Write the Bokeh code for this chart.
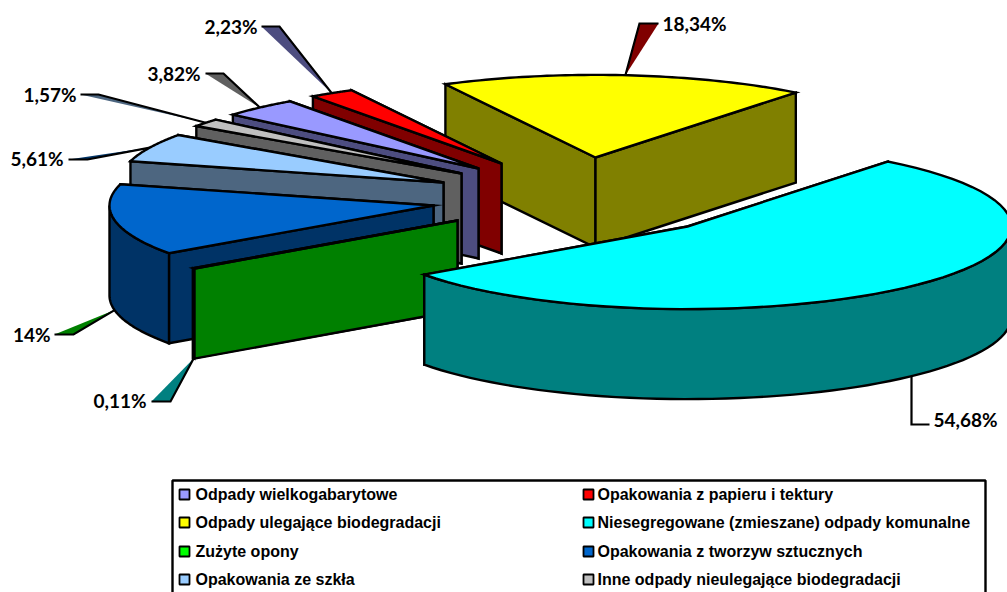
import numpy as np
from bokeh.core.properties import value
from bokeh.embed import file_html
from bokeh.models import ColumnDataSource, Range1d
from bokeh.plotting import figure
from bokeh.resources import INLINE

# ---- chart data (clockwise from the first slice) ----
categories = ["Odpady wielkogabarytowe", "Opakowania z papieru i tektury",
              "Odpady ulegające biodegradacji", "Niesegregowane (zmieszane) odpady komunalne",
              "Zużyte opony", "Opakowania z tworzyw sztucznych",
              "Opakowania ze szkła", "Inne odpady nieulegające biodegradacji"]
shares = [3.82, 2.23, 18.34, 54.68, 0.11, 14.0, 5.61, 1.57]
labels = ["3,82%", "2,23%", "18,34%", "54,68%", "0,11%", "14%", "5,61%", "1,57%"]

# ---- styling ----
top_colors = ["#9999FF", "#FF0000", "#FFFF00", "#00FFFF", "#008000", "#0066CC", "#99CCFF", "#C0C0C0"]
side_colors = ["#4D4D80", "#800000", "#808000", "#008080", "#008000", "#003366", "#4D6680", "#606060"]
legend_colors = ["#9999FF", "#FF0000", "#FFFF00", "#00FFFF", "#00FF00", "#0066CC", "#99CCFF", "#C0C0C0"]
leader_colors = ["#606060", "#4D4D80", "#800000", None, "#008080", "#008000", "#003366", "#4D6680"]

# ---- layout of the exploded 3D pie, in page pixels ----
apex_x = [478, 501, 595, 687, 457, 433, 443, 461]
apex_y = [168, 163, 157, 226, 220, 205, 182, 173]
RADIUS, TILT, DEPTH, START = 324.0, 0.255, 90.0, 139.3
paint_order = [2, 1, 0, 7, 6, 5, 4, 3]
label_x = [200, 257, 662, 933, 146, 50, 63, 76]
label_y = [73, 26, 23, 419, 400, 334, 158, 94]
label_align = ["right", "right", "left", "left", "right", "right", "right", "right"]
leader_start = [(205, 73), (261, 26), (658, 23), (929, 424), (151, 401), (54, 334), (68, 159), (80, 94)]
leader_elbow = [(223, 73), (279, 26), (639, 23), (911, 424), (170, 401), (73, 334), (87, 159), (98, 94)]

p = figure(width=1007, height=592, x_range=Range1d(0, 1007), y_range=Range1d(592, 0),
           output_backend="svg", toolbar_location=None, min_border=0)
p.axis.visible = False
p.grid.visible = False
p.outline_line_color = None
p.background_fill_color = "white"

total = sum(shares)
sweep = [s / total * 360.0 for s in shares]
starts = START - np.concatenate(([0.0], np.cumsum(sweep)[:-1]))


def rim(i, a0, a1, n=60):
    t = np.radians(np.linspace(a0, a1, n))
    return apex_x[i] + RADIUS * np.cos(t), apex_y[i] - RADIUS * TILT * np.sin(t)


xs, ys, fills = [], [], []
for i in paint_order:
    a0, a1 = starts[i], starts[i] - sweep[i]
    ax, ay = apex_x[i], apex_y[i]
    # the two radial cut faces, the one further from the viewer first
    for ang in sorted((a0, a1), key=lambda a: -np.sin(np.radians(a))):
        ex, ey = rim(i, ang, ang, 1)
        xs.append([ax, ex[0], ex[0], ax])
        ys.append([ay, ey[0], ey[0] + DEPTH, ay + DEPTH])
        fills.append(side_colors[i])
    # outer rim: only the part that faces the viewer (sine below zero)
    for k in (-1, 0):
        low = max(a1, 180 + 360 * k)
        high = min(a0, 360 + 360 * k)
        if low < high:
            tx, ty = rim(i, low, high)
            xs.append(list(tx) + list(tx[::-1]))
            ys.append(list(ty) + list(ty[::-1] + DEPTH))
            fills.append(side_colors[i])
    # top face
    tx, ty = rim(i, a0, a1)
    xs.append([ax] + list(tx))
    ys.append([ay] + list(ty))
    fills.append(top_colors[i])

p.patches("xs", "ys", source=ColumnDataSource(dict(xs=xs, ys=ys, fill=fills)),
          fill_color="fill", line_color="black", line_width=2.4, line_join="miter")

# ---- leaders, anchored on the middle of each slice's rim ----
for i in range(len(shares)):
    mid = starts[i] - sweep[i] / 2
    ex, ey = rim(i, mid, mid, 1)
    ax_, ay_ = ex[0], ey[0]
    if np.sin(np.radians(mid)) < 0:
        ay_ += DEPTH
    if leader_colors[i]:
        p.patch([leader_start[i][0], leader_elbow[i][0], ax_],
                [leader_start[i][1], leader_elbow[i][1], ay_],
                fill_color=leader_colors[i], line_color=None)
    p.line([leader_start[i][0], leader_elbow[i][0], ax_],
           [leader_start[i][1], leader_elbow[i][1], ay_],
           line_color="black", line_width=2.2, line_join="miter")

p.text(label_x, label_y, text=labels, text_font=value("Lato"), text_font_style="bold",
       text_font_size="19px", text_color="black", text_align=label_align, text_baseline="middle")

# ---- legend: two columns, clipped by the picture's lower edge ----
LEG_L, LEG_T, LEG_R, LEG_B = 172, 480, 985, 640
p.quad(left=[LEG_L], right=[LEG_R], top=[LEG_T], bottom=[LEG_B],
       fill_color="white", line_color="black", line_width=2.4)
col_x = [184, 588]
text_x = [195, 597]
row_y = [494, 522, 551, 579]
sw_l, sw_r, sw_t, sw_b, tx_x, tx_y = [], [], [], [], [], []
for i in range(len(categories)):
    x0, y0 = col_x[i % 2], row_y[i // 2]
    sw_l.append(x0 - 5); sw_r.append(x0 + 5); sw_t.append(y0 - 5); sw_b.append(y0 + 5)
    tx_x.append(text_x[i % 2]); tx_y.append(y0)
p.quad(left=sw_l, right=sw_r, top=sw_t, bottom=sw_b, fill_color=legend_colors,
       line_color="black", line_width=1.8)
p.text(tx_x, tx_y, text=categories, text_font=value("Liberation Sans"), text_font_style="bold",
       text_font_size="16px", text_color="black", text_align="left", text_baseline="middle")

open("out.html", "w").write(file_html(p, INLINE))
